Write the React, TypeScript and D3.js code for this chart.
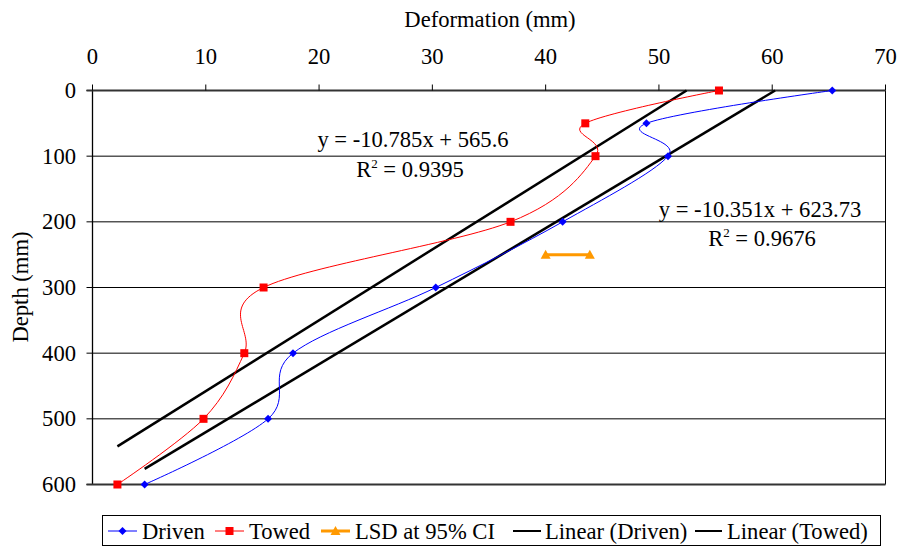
import React from "react";
import * as d3 from "d3";

const depths = [0, 50, 100, 200, 300, 400, 500, 600];
const driven = [65.3, 48.9, 50.8, 41.5, 30.3, 17.7, 15.5, 4.6];
const towed = [55.3, 43.5, 44.4, 36.9, 15.1, 13.4, 9.8, 2.2];
const lsdX = [40.0, 43.9];
const lsdDepth = 250;
const xTicks = [0, 10, 20, 30, 40, 50, 60, 70];
const yTicks = [0, 100, 200, 300, 400, 500, 600];
const trendDriven = { slope: -10.351, intercept: 623.73 };
const trendTowed = { slope: -10.785, intercept: 565.6 };

const W = 903, H = 548;
const L = 92.5, R = 885.5, T = 90.5, B = 484.5;
const FONT = "'Liberation Serif', 'Times New Roman', serif";
const FS = 22.6;

export default function App() {
  const x = d3.scaleLinear().domain([0, 70]).range([L, R]);
  const y = d3.scaleLinear().domain([0, 600]).range([T, B]);
  const line = d3.line<[number, number]>().x(d => x(d[0])).y(d => y(d[1])).curve(d3.curveCatmullRom.alpha(0));
  const dPts: [number, number][] = driven.map((v, i) => [v, depths[i]]);
  const tPts: [number, number][] = towed.map((v, i) => [v, depths[i]]);

  const trend = (t: { slope: number; intercept: number }, xs: number[]) => {
    const x0 = d3.min(xs)!, y0 = t.slope * x0 + t.intercept;
    const x1 = -t.intercept / t.slope, y1 = 0;
    return `M${x(x0)},${y(y0)}L${x(x1)},${y(y1)}`;
  };

  const diamond = (cx: number, cy: number, s: number) => `M${cx},${cy - s}L${cx + s},${cy}L${cx},${cy + s}L${cx - s},${cy}Z`;
  const tri = (cx: number, cy: number, s: number) => `M${cx},${cy - s}L${cx + s},${cy + s * 0.8}L${cx - s},${cy + s * 0.8}Z`;
  const cy = 531;

  return (
    <svg width={W} height={H} style={{ position: "absolute", left: 0, top: 0, background: "#fff" }} fontFamily={FONT} fontSize={FS}>
      <rect x={0} y={0} width={W} height={H} fill="#fff" />
      {yTicks.slice(1, -1).map(t => (
        <line key={t} x1={L} x2={R} y1={y(t)} y2={y(t)} stroke="#000" strokeWidth={1} />
      ))}
      <line x1={R} x2={R} y1={T} y2={B} stroke="#000" strokeWidth={1} />
      <line x1={L} x2={L} y1={T} y2={B} stroke="#000" strokeWidth={1.3} />
      {yTicks.map(t => (
        <g key={t}>
          <line x1={L - 6} x2={L} y1={y(t)} y2={y(t)} stroke="#000" />
          <text x={76} y={y(t) + 7.5} textAnchor="end">{t}</text>
        </g>
      ))}
      <line x1={L - 6} x2={R} y1={T} y2={T} stroke="#333" strokeWidth={2} />
      <line x1={L - 6} x2={R} y1={B} y2={B} stroke="#333" strokeWidth={2} />
      {xTicks.map(t => (
        <g key={t}>
          <line x1={x(t)} x2={x(t)} y1={T - 6} y2={T} stroke="#000" />
          <text x={x(t)} y={64} textAnchor="middle">{t}</text>
        </g>
      ))}
      <text x={490} y={27} textAnchor="middle">Deformation (mm)</text>
      <text transform={`translate(28,${287}) rotate(-90)`} textAnchor="middle">Depth (mm)</text>

      <path d={trend(trendTowed, towed)} stroke="#000" strokeWidth={2.5} fill="none" />
      <path d={trend(trendDriven, driven)} stroke="#000" strokeWidth={2.5} fill="none" />

      <path d={line(dPts)!} stroke="#0000FF" strokeWidth={1} fill="none" />
      {dPts.map((p, i) => <path key={i} d={diamond(x(p[0]), y(p[1]), 4)} fill="#0000FF" />)}
      <path d={line(tPts)!} stroke="#FF0000" strokeWidth={1} fill="none" />
      {tPts.map((p, i) => <rect key={i} x={x(p[0]) - 4} y={y(p[1]) - 4} width={8} height={8} fill="#FF0000" />)}

      <line x1={x(lsdX[0])} x2={x(lsdX[1])} y1={y(lsdDepth)} y2={y(lsdDepth)} stroke="#FF9900" strokeWidth={3} />
      {lsdX.map((v, i) => <path key={i} d={tri(x(v), y(lsdDepth), 5)} fill="#FF9900" />)}

      <text x={413} y={147} textAnchor="middle">y = -10.785x + 565.6</text>
      <text x={410} y={177} textAnchor="middle">R<tspan dy={-9} fontSize={13}>2</tspan><tspan dy={9}> = 0.9395</tspan></text>
      <text x={760} y={217} textAnchor="middle">y = -10.351x + 623.73</text>
      <text x={762} y={246} textAnchor="middle">R<tspan dy={-9} fontSize={13}>2</tspan><tspan dy={9}> = 0.9676</tspan></text>

      <rect x={102.5} y={515.5} width={778} height={30} fill="#fff" stroke="#000" strokeWidth={1} />
      <g>
        <line x1={108} x2={137} y1={cy} y2={cy} stroke="#0000FF" />
        <path d={diamond(122.5, cy, 4)} fill="#0000FF" />
        <text x={142} y={539}>Driven</text>
        <line x1={215} x2={244} y1={cy} y2={cy} stroke="#FF0000" />
        <rect x={225.5} y={cy - 4} width={8} height={8} fill="#FF0000" />
        <text x={249} y={539}>Towed</text>
        <line x1={321} x2={350} y1={cy} y2={cy} stroke="#FF9900" strokeWidth={3} />
        <path d={tri(335.5, cy, 5)} fill="#FF9900" />
        <text x={355} y={539}>LSD at 95% CI</text>
        <line x1={513} x2={541} y1={cy} y2={cy} stroke="#000" strokeWidth={2} />
        <text x={545} y={539}>Linear (Driven)</text>
        <line x1={695} x2={722} y1={cy} y2={cy} stroke="#000" strokeWidth={2} />
        <text x={727} y={539}>Linear (Towed)</text>
      </g>
    </svg>
  );
}
